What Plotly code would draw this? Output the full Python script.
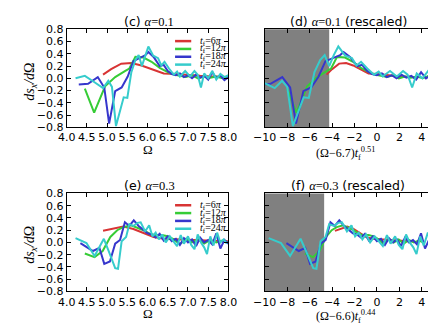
import plotly.graph_objects as go
import numpy as np

# final times (legend labels) and the value used in the rescaling
tf_labels = ["6π", "12π", "18π", "24π"]
tf_scale = [6, 12, 18, 24]
colors = ["#d83434", "#36cc36", "#3636cc", "#36cccc"]

# ---- alpha = 0.1 : dsx/dOmega against Omega ----
om_a1 = [
    [4.9, 5.1, 5.35, 5.6, 5.85, 6.1, 6.4, 6.7, 7.0, 7.3, 7.6, 7.9, 8.0],
    [4.45, 4.68, 4.95, 5.2, 5.45, 5.55, 5.7, 5.9, 6.1, 6.3, 6.5, 6.65, 6.8, 6.95,
     7.1, 7.25, 7.4, 7.55, 7.7, 7.85, 8.0],
    [4.3, 4.53, 4.77, 4.93, 5.05, 5.2, 5.36, 5.51, 5.65, 5.8, 5.95, 6.02, 6.15, 6.3,
     6.4, 6.5, 6.6, 6.7, 6.8, 6.9, 7.0, 7.1, 7.2, 7.3, 7.4, 7.5, 7.6, 7.7, 7.8, 7.9, 8.0],
    [4.22, 4.45, 4.68, 4.9, 5.03, 5.12, 5.22, 5.41, 5.5, 5.6, 5.7, 5.78, 5.86, 5.94,
     6.02, 6.14, 6.26, 6.34, 6.42, 6.53, 6.65, 6.73, 6.8, 6.93, 7.05, 7.16, 7.24, 7.32,
     7.4, 7.5, 7.6, 7.7, 7.8, 7.9, 8.0],
]
ds_a1 = [
    [0.06, 0.15, 0.24, 0.25, 0.21, 0.15, 0.08, 0.07, 0.05, 0.04, 0.03, 0.02, 0.02],
    [-0.17, -0.56, -0.13, 0.02, 0.12, 0.16, 0.35, 0.34, 0.27, 0.17, 0.1, 0.06, 0.04, 0.02,
     0.05, 0.0, 0.03, 0.01, 0.03, 0.0, 0.04],
    [-0.1, -0.09, 0.02, -0.15, -0.74, -0.21, -0.15, 0.03, 0.28, 0.33, 0.38, 0.43, 0.35, 0.2,
     0.22, 0.12, 0.07, 0.05, 0.08, 0.02, 0.05, 0.0, 0.06, 0.01, 0.04, -0.02, 0.1, 0.0, 0.05, -0.03, 0.02],
    [0.0, 0.04, -0.06, -0.16, -0.04, -0.14, -0.78, -0.31, -0.32, 0.1, 0.3, 0.38, 0.2, 0.38,
     0.52, 0.37, 0.33, 0.21, 0.27, 0.16, 0.06, 0.11, 0.03, 0.12, 0.03, 0.12, 0.06, -0.15,
     0.08, 0.0, 0.12, -0.02, 0.07, 0.02, 0.05],
]

# ---- alpha = 0.3 ----
om_a3 = [
    [4.9, 5.15, 5.4, 5.65, 5.9, 6.15, 6.4, 6.7, 7.0, 7.3, 7.6, 7.9, 8.0],
    [4.45, 4.69, 4.89, 5.08, 5.25, 5.4, 5.59, 5.75, 5.9, 6.06, 6.2, 6.35, 6.5, 6.65, 6.8,
     6.95, 7.1, 7.25, 7.4, 7.55, 7.7, 7.85, 8.0],
    [4.34, 4.65, 4.81, 4.93, 5.07, 5.2, 5.32, 5.44, 5.55, 5.66, 5.78, 5.9, 6.0, 6.1, 6.2,
     6.3, 6.4, 6.5, 6.6, 6.7, 6.8, 6.9, 7.0, 7.1, 7.2, 7.3, 7.4, 7.5, 7.6, 7.7, 7.8, 7.9, 8.0],
    [4.22, 4.49, 4.69, 4.92, 5.04, 5.2, 5.27, 5.36, 5.47, 5.55, 5.65, 5.75, 5.83, 5.94,
     6.04, 6.12, 6.2, 6.28, 6.36, 6.45, 6.55, 6.65, 6.73, 6.82, 6.9, 7.0, 7.08, 7.16, 7.24,
     7.32, 7.4, 7.47, 7.55, 7.63, 7.72, 7.8, 7.88, 7.96],
]
ds_a3 = [
    [0.19, 0.23, 0.26, 0.22, 0.16, 0.09, 0.06, 0.05, 0.04, 0.03, 0.03, 0.02, 0.02],
    [-0.18, -0.24, -0.14, 0.09, 0.2, 0.25, 0.28, 0.24, 0.2, 0.14, 0.12, 0.12, 0.1, 0.05,
     -0.03, 0.06, 0.0, 0.05, -0.02, 0.04, 0.0, 0.03, 0.0],
    [-0.01, -0.14, -0.09, -0.35, -0.31, -0.02, 0.04, 0.33, 0.27, 0.36, 0.27, 0.2, 0.15, 0.13,
     0.08, 0.14, 0.03, 0.1, 0.02, 0.06, -0.04, 0.07, 0.0, 0.05, -0.06, 0.08, 0.0, 0.04, -0.03,
     0.15, -0.1, 0.04, -0.02],
    [0.07, -0.01, -0.22, 0.06, -0.14, -0.42, -0.43, 0.02, 0.09, 0.3, 0.27, 0.32, 0.33, 0.18,
     0.28, 0.1, 0.16, 0.05, 0.13, 0.0, 0.1, 0.02, -0.06, 0.12, -0.02, 0.1, -0.04, -0.11, 0.13,
     0.0, -0.08, -0.19, 0.1, -0.05, 0.16, 0.0, 0.05, -0.02],
]

center_a1, expo_a1 = 6.7, 0.51
center_a3, expo_a3 = 6.6, 0.44
shade_a1 = [-10, -4.25]
shade_a3 = [-10, -4.7]

W, H = 436, 324
def xd(p0, p1):
    return [p0 / W, p1 / W]
def yd(p0, p1):
    return [1 - p1 / H, 1 - p0 / H]

SERIF = "Liberation Serif"
SANS = "DejaVu Sans"

fig = go.Figure()
panels = [("x", "y", om_a1, ds_a1, None), ("x2", "y2", om_a1, ds_a1, (center_a1, expo_a1)),
          ("x3", "y3", om_a3, ds_a3, None), ("x4", "y4", om_a3, ds_a3, (center_a3, expo_a3))]
for xa, ya, oms, dss, resc in panels:
    for i in range(4):
        xs = np.array(oms[i])
        if resc is not None:
            xs = (xs - resc[0]) * tf_scale[i] ** resc[1]
        fig.add_trace(go.Scatter(x=xs, y=dss[i], mode="lines", xaxis=xa, yaxis=ya,
                                 line=dict(color=colors[i], width=2), showlegend=False))

axis_common = dict(showgrid=False, zeroline=False, showline=True, linecolor="black",
                   linewidth=1, mirror="ticks", ticks="inside", ticklen=4, tickcolor="black",
                   tickangle=0, tickfont=dict(family=SANS, size=11, color="black"))
yt = dict(range=[-0.8, 0.8], tickvals=[-0.8, -0.6, -0.4, -0.2, 0, 0.2, 0.4, 0.6, 0.8],
          tickformat=".1f", **axis_common)
xom = dict(range=[4.0, 8.0], tickvals=[4.0, 4.5, 5.0, 5.5, 6.0, 6.5, 7.0, 7.5, 8.0],
           tickformat=".1f", **axis_common)
xrs = dict(range=[-10, 5], tickvals=[-10, -8, -6, -4, -2, 0, 2, 4], **axis_common)

fig.update_layout(
    width=W, height=H, margin=dict(l=0, r=0, t=0, b=0),
    plot_bgcolor="white", paper_bgcolor="white",
    xaxis=dict(domain=xd(49, 219), anchor="y", **xom),
    yaxis=dict(domain=yd(16, 118), anchor="x", **yt),
    xaxis2=dict(domain=xd(257, 434), anchor="y2", **xrs),
    yaxis2=dict(domain=yd(16, 118), anchor="x2", showticklabels=False, **yt),
    xaxis3=dict(domain=xd(49, 219), anchor="y3", **xom),
    yaxis3=dict(domain=yd(187, 289), anchor="x3", **yt),
    xaxis4=dict(domain=xd(257, 434), anchor="y4", **xrs),
    yaxis4=dict(domain=yd(187, 289), anchor="x4", showticklabels=False, **yt),
)

# shaded regions of the rescaled panels
for xa, ya, sh in [("x2", "y2", shade_a1), ("x4", "y4", shade_a3)]:
    fig.add_shape(type="rect", xref=xa, yref=ya + " domain", x0=sh[0], x1=sh[1], y0=0, y1=1,
                  fillcolor="#808080", line=dict(width=0), layer="below")

# hand-made legends in panels (c) and (e)
legend_rows = [0.88, 0.80, 0.72, 0.64]
for xa, ya in [("x", "y"), ("x3", "y3")]:
    for i in range(4):
        fig.add_shape(type="line", xref=xa + " domain", yref=ya + " domain",
                      x0=0.67, x1=0.77, y0=legend_rows[i], y1=legend_rows[i],
                      line=dict(color=colors[i], width=2.5))
        fig.add_annotation(xref=xa + " domain", yref=ya + " domain", x=0.81, y=legend_rows[i],
                           xanchor="left", yanchor="middle", showarrow=False,
                           text="<i>t</i><sub>f</sub>=" + tf_labels[i].replace("π", "<i>π</i>"),
                           font=dict(family=SERIF, size=10, color="black"))

def ann(x, y, text, size=12, family=SANS, angle=0):
    fig.add_annotation(xref="paper", yref="paper", x=x / W, y=1 - y / H, text=text,
                       showarrow=False, xanchor="center", yanchor="middle", textangle=angle,
                       font=dict(family=family, size=size, color="black"))

m = "<span style='font-family:%s'>" % SERIF
ann(136, 8, "(c) " + m + "<i>α</i>=0.1</span>", 12.5)
ann(345, 8, "(d) " + m + "<i>α</i>=0.1</span> (rescaled)", 12.5)
ann(136, 179, "(e) " + m + "<i>α</i>=0.3</span>", 12.5)
ann(345, 179, "(f) " + m + "<i>α</i>=0.3</span> (rescaled)", 12.5)
ann(134, 141, "Ω", 13, SERIF)
ann(134, 312, "Ω", 13, SERIF)
ann(342, 145, "(Ω−6.7)<i>t</i><sub>f</sub><sup>0.51</sup>", 12, SERIF)
ann(342, 315, "(Ω−6.6)<i>t</i><sub>f</sub><sup>0.44</sup>", 12, SERIF)
ylab = "<i>ds</i><sub><i>x</i></sub><i>/d</i>Ω"
ann(11, 70, ylab, 14, SERIF, -90)
ann(11, 240, ylab, 14, SERIF, -90)

fig.write_html("out.html")
